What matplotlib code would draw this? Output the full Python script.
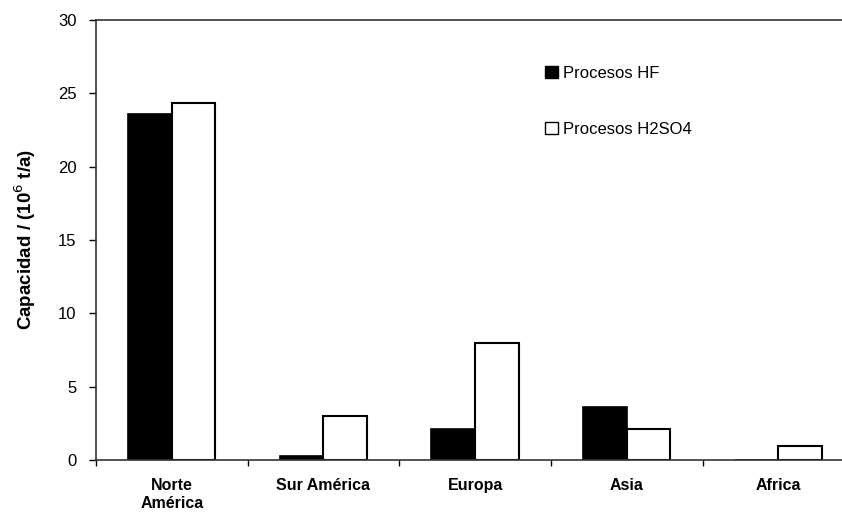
import numpy as np
import matplotlib.pyplot as plt
from matplotlib.patches import Patch

plt.rcParams['font.family'] = ['Liberation Sans', 'DejaVu Sans']

regiones = ['Norte\nAmérica', 'Sur América', 'Europa', 'Asia', 'Africa']
hf = [23.6, 0.3, 2.14, 3.61, 0.0]
h2so4 = [24.36, 2.98, 8.0, 2.09, 0.93]
yticks = [0, 5, 10, 15, 20, 25, 30]

fig = plt.figure(figsize=(8.42, 5.13), dpi=100)
ax = fig.add_axes([96 / 842, 1 - 460 / 513, 1 - 96 / 842, 440 / 513])

x = np.arange(len(regiones))
w = 0.288
ax.bar(x - w / 2, hf, w, color='black', edgecolor='black', linewidth=1.2)
ax.bar(x + w / 2, h2so4, w, color='white', edgecolor='black', linewidth=1.5)

# figure is cut off on the right, last category boundary falls outside
ax.set_xlim(-0.5, 4.42)
ax.set_ylim(0, 30)
ax.set_yticks(yticks)
ax.set_yticklabels([str(v) for v in yticks], fontsize=12)
ax.tick_params(axis='y', direction='out', length=5, width=1, pad=9)

# ticks on category boundaries, labels centered
ax.set_xticks(np.arange(len(regiones)) - 0.5)
ax.set_xticklabels([])
ax.set_xticks(x, minor=True)
ax.set_xticklabels(regiones, minor=True, fontsize=11.5, fontweight='bold',
                   linespacing=1.25)
ax.tick_params(axis='x', which='major', direction='out', length=4, width=1)
ax.tick_params(axis='x', which='minor', length=0, pad=13)

for s in ['left', 'bottom', 'top']:
    ax.spines[s].set_color('#333333')
    ax.spines[s].set_linewidth(1.2)
ax.spines['right'].set_visible(False)

ax.set_ylabel('Capacidad / (10$^6$ t/a)', fontsize=13.5, fontweight='bold',
              labelpad=14)

handles = [Patch(facecolor='black', edgecolor='black'),
           Patch(facecolor='white', edgecolor='black')]
fig.legend(handles, ['Procesos HF', 'Procesos H2SO4'], loc='upper left',
           bbox_to_anchor=(545 / 842, 1 - 66 / 513), borderpad=0,
           borderaxespad=0, frameon=False, fontsize=12, handlelength=0.75,
           handleheight=0.75, handletextpad=0.35, labelspacing=2.45)

fig.savefig('out.png', dpi=100)
